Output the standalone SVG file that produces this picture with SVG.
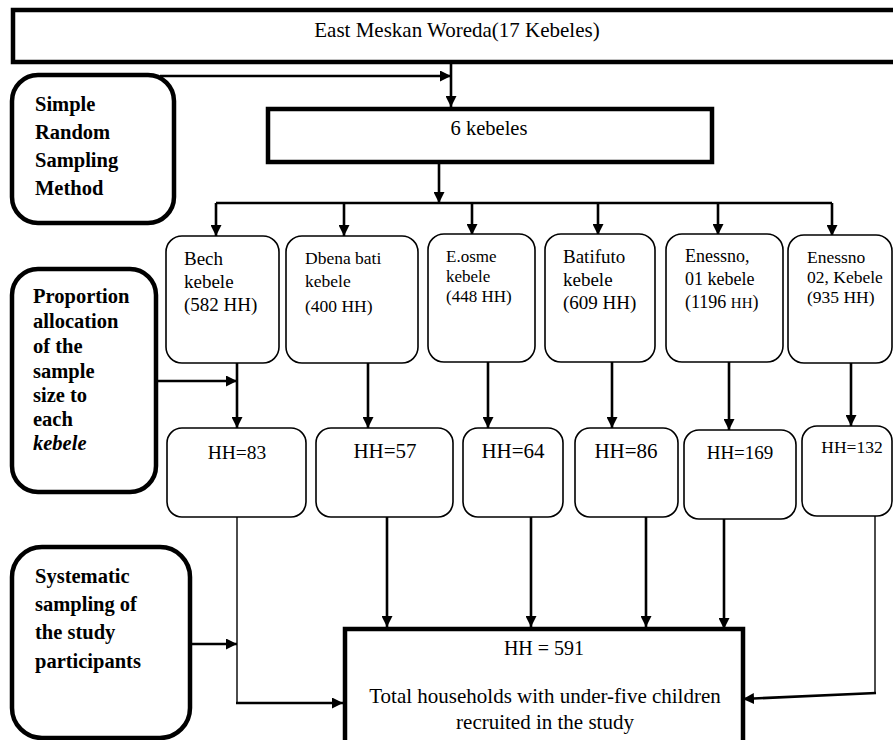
<svg xmlns="http://www.w3.org/2000/svg" width="893" height="740" viewBox="0 0 893 740">
<defs>
<marker id="ah" viewBox="0 0 10 10" refX="10" refY="5" markerWidth="11" markerHeight="11" markerUnits="userSpaceOnUse" orient="auto"><path d="M0,0 L10,5 L0,10 z" fill="#000"/></marker>
<style>
.t{font-family:"Liberation Serif","Times New Roman",serif;fill:#000}
.b{font-weight:bold;font-size:20.5px}
.thick{fill:#fff;stroke:#000;stroke-width:4.5}
.side{fill:#fff;stroke:#000;stroke-width:4.5}
.kb{fill:#fff;stroke:#000;stroke-width:1.6}
.c{fill:none;stroke:#000;stroke-width:2.6}
.cn{fill:none;stroke:#000;stroke-width:1.4}
</style>
</defs>
<rect width="893" height="740" fill="#fff"/>

<g id="connectors">
<line class="c" x1="451" y1="62" x2="451" y2="107" marker-end="url(#ah)"/>
<line class="c" x1="160" y1="76" x2="451" y2="76" marker-end="url(#ah)"/>
<line class="c" x1="439" y1="163" x2="439" y2="203" marker-end="url(#ah)"/>
<line class="c" x1="216" y1="203" x2="832" y2="203"/>
<line class="c" x1="216" y1="203" x2="216" y2="236" marker-end="url(#ah)"/>
<line class="c" x1="344" y1="203" x2="344" y2="236" marker-end="url(#ah)"/>
<line class="c" x1="472" y1="203" x2="472" y2="235" marker-end="url(#ah)"/>
<line class="c" x1="598" y1="203" x2="598" y2="235" marker-end="url(#ah)"/>
<line class="c" x1="718" y1="203" x2="718" y2="235" marker-end="url(#ah)"/>
<line class="c" x1="832" y1="203" x2="832" y2="236" marker-end="url(#ah)"/>
<line class="c" x1="237" y1="363" x2="237" y2="428" marker-end="url(#ah)"/>
<line class="c" x1="156" y1="381" x2="237" y2="381" marker-end="url(#ah)"/>
<line class="c" x1="368" y1="363" x2="368" y2="428" marker-end="url(#ah)"/>
<line class="c" x1="488" y1="362" x2="488" y2="428" marker-end="url(#ah)"/>
<line class="c" x1="612" y1="362" x2="612" y2="428" marker-end="url(#ah)"/>
<line class="c" x1="729" y1="362" x2="729" y2="430" marker-end="url(#ah)"/>
<line class="c" x1="851" y1="363" x2="851" y2="426" marker-end="url(#ah)"/>
<line class="cn" x1="237" y1="517" x2="237" y2="704"/>
<line class="c" x1="236" y1="703" x2="343" y2="703" marker-end="url(#ah)"/>
<line class="c" x1="190" y1="644" x2="237" y2="644" marker-end="url(#ah)"/>
<line class="c" x1="387" y1="517" x2="387" y2="627" marker-end="url(#ah)"/>
<line class="c" x1="531" y1="517" x2="531" y2="627" marker-end="url(#ah)"/>
<line class="c" x1="646" y1="517" x2="646" y2="627" marker-end="url(#ah)"/>
<line class="c" x1="724" y1="519" x2="724" y2="629" marker-end="url(#ah)"/>
<line class="cn" x1="875" y1="516" x2="875" y2="694"/>
<line class="c" x1="876" y1="693" x2="743" y2="699" marker-end="url(#ah)"/>
</g>

<g id="woreda">
<rect class="thick" x="13" y="10" width="890" height="52"/>
<text class="t" x="457" y="37" font-size="21" text-anchor="middle">East Meskan Woreda(17 Kebeles)</text>
</g>

<g id="six-kebeles">
<rect class="thick" x="268" y="109" width="444" height="53"/>
<text class="t" x="489" y="135" font-size="20.5" text-anchor="middle">6 kebeles</text>
</g>

<g id="srs">
<rect class="side" x="12" y="75" width="162" height="148" rx="26"/>
<text class="t b" x="35" y="111">Simple</text>
<text class="t b" x="35" y="139">Random</text>
<text class="t b" x="35" y="167">Sampling</text>
<text class="t b" x="35" y="195">Method</text>
</g>

<g id="proportion">
<rect class="side" x="12" y="269" width="144" height="223" rx="26"/>
<text class="t b" x="33" y="303">Proportion</text>
<text class="t b" x="33" y="328">allocation</text>
<text class="t b" x="33" y="353">of the</text>
<text class="t b" x="33" y="378">sample</text>
<text class="t b" x="33" y="402">size to</text>
<text class="t b" x="33" y="426">each</text>
<text class="t b" x="33" y="450" font-style="italic">kebele</text>
</g>

<g id="systematic">
<rect class="side" x="12" y="547" width="178" height="191" rx="30"/>
<text class="t b" x="35" y="583">Systematic</text>
<text class="t b" x="35" y="611">sampling of</text>
<text class="t b" x="35" y="639">the study</text>
<text class="t b" x="35" y="668">participants</text>
</g>

<g id="bech">
<rect class="kb" x="166" y="236" width="113" height="127" rx="16"/>
<text class="t" x="184" y="265" font-size="19">Bech</text>
<text class="t" x="184" y="288" font-size="19">kebele</text>
<text class="t" x="184" y="311" font-size="19">(582 HH)</text>
</g>

<g id="dbena">
<rect class="kb" x="286" y="236" width="132" height="127" rx="16"/>
<text class="t" x="305" y="264" font-size="17.5">Dbena bati</text>
<text class="t" x="305" y="287" font-size="17.5">kebele</text>
<text class="t" x="305" y="312" font-size="17.5">(400 HH)</text>
</g>

<g id="eosme">
<rect class="kb" x="428" y="234" width="107" height="128" rx="16"/>
<text class="t" x="446" y="262" font-size="17">E.osme</text>
<text class="t" x="446" y="282" font-size="17">kebele</text>
<text class="t" x="446" y="302" font-size="17">(448 HH)</text>
</g>

<g id="batifuto">
<rect class="kb" x="545" y="234" width="110" height="128" rx="16"/>
<text class="t" x="563" y="263" font-size="19">Batifuto</text>
<text class="t" x="563" y="286" font-size="19">kebele</text>
<text class="t" x="563" y="309" font-size="19">(609 HH)</text>
</g>

<g id="enessno01">
<rect class="kb" x="666" y="234" width="117" height="128" rx="16"/>
<text class="t" x="685" y="262" font-size="18">Enessno,</text>
<text class="t" x="685" y="285" font-size="18">01 kebele</text>
<text class="t" x="685" y="308" font-size="18">(1196 <tspan font-size="15">HH</tspan>)</text>
</g>

<g id="enessno02">
<rect class="kb" x="788" y="235" width="104" height="128" rx="16"/>
<text class="t" x="807" y="263" font-size="17.5">Enessno</text>
<text class="t" x="807" y="283" font-size="17.5">02, Kebele</text>
<text class="t" x="807" y="303" font-size="17.5">(935 HH)</text>
</g>

<g id="hh83">
<rect class="kb" x="167" y="428" width="139" height="89" rx="15"/>
<text class="t" x="237" y="459" font-size="19.5" text-anchor="middle">HH=83</text>
</g>
<g id="hh57">
<rect class="kb" x="316" y="428" width="137" height="89" rx="15"/>
<text class="t" x="385" y="458" font-size="21" text-anchor="middle">HH=57</text>
</g>
<g id="hh64">
<rect class="kb" x="463" y="428" width="100" height="89" rx="15"/>
<text class="t" x="513" y="458" font-size="21" text-anchor="middle">HH=64</text>
</g>
<g id="hh86">
<rect class="kb" x="575" y="428" width="103" height="89" rx="15"/>
<text class="t" x="626" y="458" font-size="21" text-anchor="middle">HH=86</text>
</g>
<g id="hh169">
<rect class="kb" x="684" y="430" width="112" height="89" rx="15"/>
<text class="t" x="740" y="459" font-size="19" text-anchor="middle">HH=169</text>
</g>
<g id="hh132">
<rect class="kb" x="802" y="426" width="90" height="90" rx="15"/>
<text class="t" x="852" y="453" font-size="17.5" text-anchor="middle">HH=132</text>
</g>

<g id="total">
<rect class="thick" x="345" y="629" width="398" height="115" stroke-width="5"/>
<text class="t" x="544" y="655" font-size="20" text-anchor="middle">HH = 591</text>
<text class="t" x="545" y="703" font-size="21" text-anchor="middle">Total households with under-five children</text>
<text class="t" x="545" y="729" font-size="21" text-anchor="middle">recruited in the study</text>
</g>
</svg>
